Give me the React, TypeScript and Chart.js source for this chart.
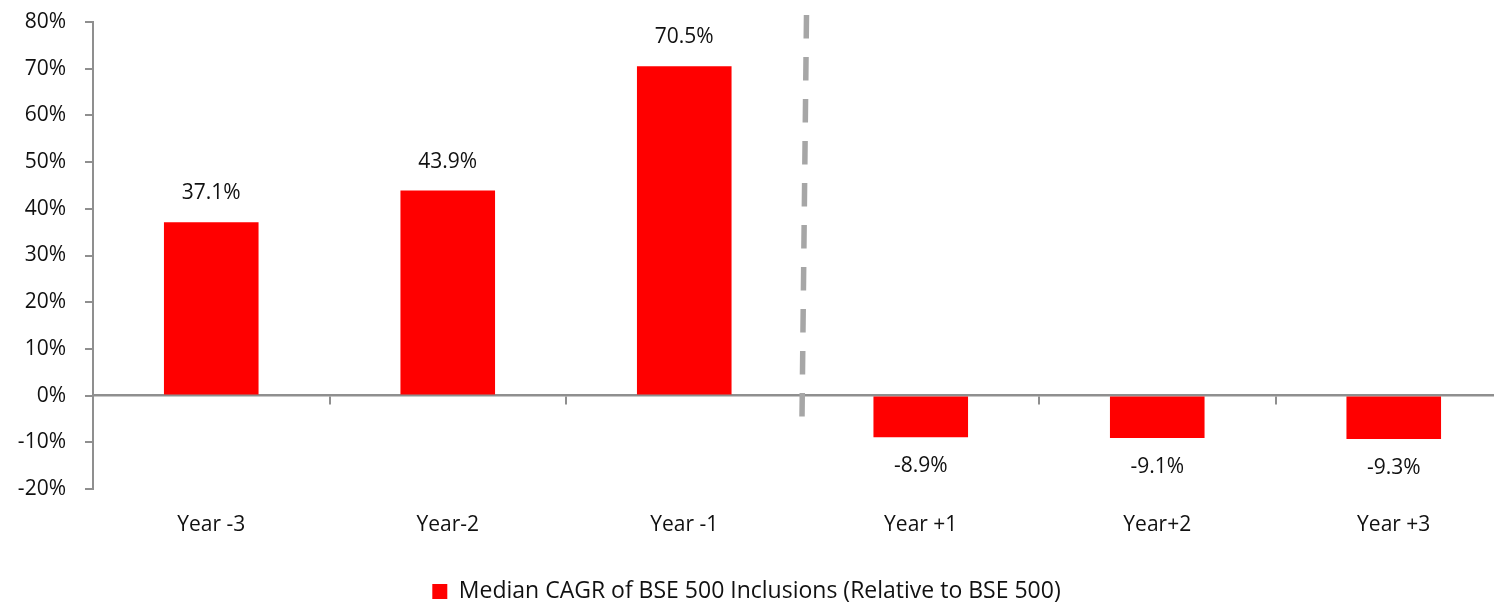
import React, { useEffect, useRef } from 'react';
import { Chart, registerables } from 'chart.js';

Chart.register(...registerables);

const categories = ['Year -3', 'Year-2', 'Year -1', 'Year +1', 'Year+2', 'Year +3'];
const medianCagr = [37.1, 43.9, 70.5, -8.9, -9.1, -9.3];
const seriesLabel = 'Median CAGR of BSE 500 Inclusions (Relative to BSE 500)';
const yMin = -20;
const yMax = 80;
const yStep = 10;
const dividerAfterIndex = 2;

const FONT = '"Open Sans", Lato, sans-serif';
const FS = 21;
const LEGEND_FS = 23;
const TEXT = '#111111';
const AXIS = '#8f8f8f';

const dataLabelPlugin = {
  id: 'dataLabels',
  afterDatasetsDraw(chart: any) {
    const ctx = chart.ctx;
    const meta = chart.getDatasetMeta(0);
    ctx.save();
    ctx.font = `${FS}px ${FONT}`;
    ctx.fillStyle = TEXT;
    ctx.textAlign = 'center';
    ctx.textBaseline = 'middle';
    meta.data.forEach((bar: any, i: number) => {
      const v = medianCagr[i];
      const y = v >= 0 ? bar.y - 29 : bar.y + 29;
      ctx.fillText(v.toFixed(1) + '%', bar.x, y);
    });
    ctx.restore();
  },
};

const dividerPlugin = {
  id: 'divider',
  afterDatasetsDraw(chart: any) {
    const { ctx, scales } = chart;
    const x = scales.x;
    const y = scales.y;
    const bx = (x.getPixelForValue(dividerAfterIndex) + x.getPixelForValue(dividerAfterIndex + 1)) / 2;
    const top = y.getPixelForValue(81.5);
    const bottom = y.getPixelForValue(-4.65);
    ctx.save();
    ctx.strokeStyle = '#a6a6a6';
    ctx.lineWidth = 5.5;
    ctx.setLineDash([23.5, 18.5]);
    ctx.beginPath();
    ctx.moveTo(bx + 4, top);
    ctx.lineTo(bx - 0.5, bottom);
    ctx.stroke();
    ctx.restore();
  },
};

export default function App() {
  const ref = useRef<HTMLCanvasElement | null>(null);

  useEffect(() => {
    document.body.style.margin = '0';
    const canvas = ref.current;
    if (!canvas) return;
    const chart = new Chart(canvas, {
      type: 'bar',
      data: {
        labels: categories,
        datasets: [
          {
            label: seriesLabel,
            data: medianCagr,
            backgroundColor: '#ff0000',
            borderWidth: 0,
            barPercentage: 0.4,
            categoryPercentage: 1,
            xAxisID: 'x',
            yAxisID: 'y',
          },
        ],
      },
      options: {
        responsive: false,
        animation: false,
        layout: { padding: { top: 22, left: 0, right: 0, bottom: -10 } },
        plugins: {
          tooltip: { enabled: false },
          legend: {
            position: 'bottom',
            labels: {
              boxWidth: 15,
              boxHeight: 15,
              padding: 2,
              color: TEXT,
              font: { family: FONT, size: LEGEND_FS },
            },
          },
        },
        scales: {
          x: {
            type: 'category',
            position: 'bottom',
            offset: true,
            grid: { display: false, drawTicks: false, offset: true },
            border: { display: false },
            ticks: { color: TEXT, font: { family: FONT, size: FS }, padding: 23, maxRotation: 0 },
            afterFit: (s: any) => {
              s.height = 89;
            },
          },
          x2: {
            type: 'category',
            position: { y: 0 },
            offset: true,
            grid: {
              display: true,
              drawOnChartArea: false,
              drawTicks: true,
              tickLength: 8,
              offset: true,
              color: AXIS,
              lineWidth: 2,
            },
            border: { display: true, color: AXIS, width: 2.5 },
            ticks: { display: false },
            afterFit: (s: any) => {
              s.paddingTop = 0;
              s.paddingBottom = 0;
            },
          },
          y: {
            min: yMin,
            max: yMax,
            position: 'left',
            grid: {
              drawOnChartArea: false,
              drawTicks: true,
              tickLength: 8,
              color: AXIS,
              lineWidth: 2,
            },
            border: { display: true, color: AXIS, width: 2 },
            ticks: {
              stepSize: yStep,
              padding: 19,
              color: TEXT,
              font: { family: FONT, size: FS },
              callback: (v: any) => `${v}%`,
            },
            afterFit: (s: any) => {
              s.width = 112;
              s.paddingTop = 0;
              s.paddingBottom = 0;
            },
          },
        },
      },
      plugins: [dividerPlugin, dataLabelPlugin],
    });
    return () => chart.destroy();
  }, []);

  return (
    <div style={{ position: 'relative', width: 1494, height: 603, overflow: 'hidden', background: '#fff' }}>
      <canvas
        ref={ref}
        width={1531}
        height={603}
        style={{ position: 'absolute', left: -19, top: 0, width: 1531, height: 603 }}
      />
    </div>
  );
}
